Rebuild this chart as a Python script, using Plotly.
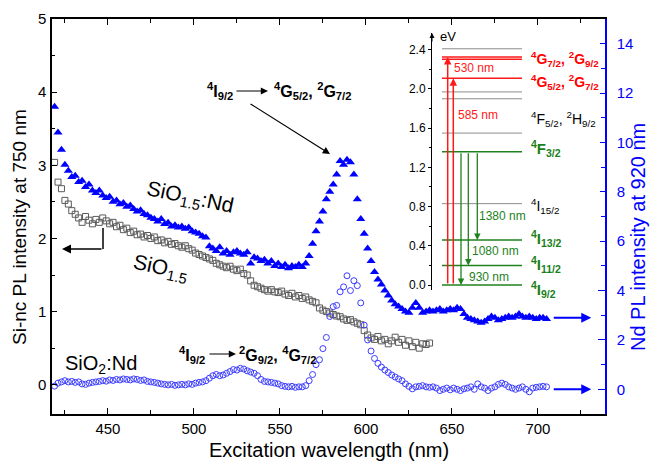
import plotly.graph_objects as go

# ---------------- data ----------------
wl_nd = list(range(419, 706, 2))    # excitation wavelength, nm (Nd-related series)
wl_sio = list(range(419, 638, 2))   # excitation wavelength, nm (SiO1.5 series)

# SiO1.5:Nd  -> Nd PL intensity at 920 nm (right axis)
sio15nd = [11.45, 10.4, 9.7, 9.1, 8.85, 8.6, 8.65, 8.4, 8.45, 8.2,
           8.3, 8.05, 7.95, 8.05, 7.85, 7.75, 7.8, 7.6, 7.65, 7.5,
           7.55, 7.4, 7.45, 7.3, 7.2, 7.25, 7.1, 7.05, 6.95, 6.9,
           6.8, 6.9, 6.7, 6.75, 6.6, 6.65, 6.55, 6.6, 6.5, 6.55,
           6.4, 6.35, 6.3, 6.2, 6.15, 5.8, 5.7, 5.6, 5.75, 5.5,
           5.6, 5.45, 5.55, 5.6, 5.5, 5.45, 5.55, 5.1, 5.35, 5.3,
           5.2, 5.25, 5.1, 5.2, 5.0, 5.1, 4.95, 5.05, 4.9, 5.0,
           4.95, 5.05, 4.95, 5.1, 5.4, 5.9, 6.4, 6.8, 7.2, 7.7,
           8.0, 8.3, 8.7, 9.25, 9.1, 9.3, 9.2, 8.7, 7.7, 6.9,
           6.3, 5.7, 5.2, 4.75, 4.45, 4.25, 4.0, 3.8, 3.6, 3.45,
           3.35, 3.25, 3.15, 3.1, 3.3, 3.5, 3.3, 3.1, 3.15, 3.2,
           3.15, 3.2, 3.25, 3.15, 3.2, 3.25, 3.2, 3.3, 3.25, 3.05,
           2.9, 2.85, 2.8, 2.75, 2.7, 2.75, 2.85, 2.95, 2.9, 2.8,
           2.85, 2.9, 2.95, 2.9, 2.95, 3.05, 2.95, 2.9, 2.95, 2.9,
           2.85, 2.9, 2.9, 2.85]

# SiO1.5 -> Si-nc PL intensity at 750 nm (left axis)
sio15 = [3.04, 2.77, 2.68, 2.52, 2.47, 2.38, 2.33, 2.28, 2.22, 2.30,
         2.25, 2.20, 2.26, 2.22, 2.28, 2.24, 2.20, 2.22, 2.16, 2.18,
         2.12, 2.14, 2.08, 2.10, 2.05, 2.06, 2.02, 2.04, 2.00, 2.02,
         1.97, 1.98, 1.94, 1.96, 1.92, 1.93, 1.90, 1.88, 1.90, 1.86,
         1.84, 1.80, 1.78, 1.76, 1.74, 1.72, 1.70, 1.66, 1.64, 1.62,
         1.60, 1.62, 1.58, 1.56, 1.58, 1.52, 1.50, 1.42, 1.36, 1.34,
         1.32, 1.30, 1.28, 1.30, 1.27, 1.26, 1.28, 1.24, 1.22, 1.25,
         1.20, 1.22, 1.18, 1.20, 1.16, 1.14, 1.12, 1.05, 1.02, 1.00,
         0.98, 0.96, 0.94, 0.93, 0.90, 0.88, 0.89, 0.86, 0.84, 0.82,
         0.74, 0.68, 0.64, 0.62, 0.66, 0.60, 0.62, 0.56, 0.60, 0.65,
         0.58, 0.62, 0.54, 0.60, 0.52, 0.58, 0.50, 0.56, 0.55, 0.57]

# SiO2:Nd -> Nd PL intensity at 920 nm (right axis)
sio2nd = [0.13, 0.25, 0.3, 0.35, 0.3, 0.32, 0.28, 0.3, 0.22, 0.2,
          0.25, 0.28, 0.3, 0.32, 0.35, 0.33, 0.38, 0.36, 0.4, 0.38,
          0.42, 0.4, 0.38, 0.42, 0.4, 0.36, 0.38, 0.32, 0.3, 0.28,
          0.25, 0.22, 0.2, 0.18, 0.2, 0.16, 0.18, 0.2, 0.18, 0.22,
          0.2, 0.25, 0.28, 0.3, 0.35, 0.45, 0.55, 0.6, 0.55, 0.58,
          0.65, 0.72, 0.8, 0.78, 0.85, 0.82, 0.75, 0.7, 0.65, 0.55,
          0.4, 0.32, 0.3, 0.28, 0.25, 0.22, 0.15, 0.12, 0.1, 0.12,
          0.08, 0.1, 0.1, 0.15, 0.35, 0.6, 1.0, 1.2, 1.65, 2.1,
          2.95, 3.35, 3.4, 3.95, 4.15, 4.6, 4.0, 4.4, 4.2, 3.5,
          2.6, 2.0, 1.55, 1.25, 1.05, 0.9, 0.78, 0.68, 0.58, 0.5,
          0.42, 0.35, 0.22, 0.12, 0.02, 0.1, 0.12, 0.15, 0.1, 0.08,
          0.1, 0.05, -0.05, 0.0, 0.05, -0.02, 0.05, 0.0, -0.05, 0.02,
          0.05, 0.1, 0.0, 0.22, 0.1, 0.05, -0.05, 0.05, 0.1, 0.2,
          0.25, 0.2, 0.1, 0.05, 0.0, 0.05, 0.1, 0.0, -0.1, 0.05,
          0.08, 0.1, 0.12, 0.1]

# Inset: Nd3+ energy levels (eV)
gray_levels = [2.41, 1.97, 1.90, 1.55, 0.83]
red_levels = [2.327, 2.303, 2.11]
green_levels = [1.36, 0.46, 0.20, 0.0]
excitations = [("530 nm", 2.327), ("585 nm", 2.11)]
emissions = [("930 nm", 0.0), ("1080 nm", 0.20), ("1380 nm", 0.46)]
level_labels = [
    ("<b><sup>4</sup>G<sub>7/2</sub>, <sup>2</sup>G<sub>9/2</sub></b>", 2.31, "#ff0000", 14),
    ("<b><sup>4</sup>G<sub>5/2</sub>, <sup>2</sup>G<sub>7/2</sub></b>", 2.07, "#ff0000", 14),
    ("<sup>4</sup>F<sub>5/2</sub>, <sup>2</sup>H<sub>9/2</sub>", 1.69, "black", 14),
    ("<b><sup>4</sup>F<sub>3/2</sub></b>", 1.39, "#1a7f1a", 15),
    ("<sup>4</sup>I<sub>15/2</sub>", 0.81, "black", 14),
    ("<b><sup>4</sup>I<sub>13/2</sub></b>", 0.47, "#1a7f1a", 15),
    ("<b><sup>4</sup>I<sub>11/2</sub></b>", 0.21, "#1a7f1a", 15),
    ("<b><sup>4</sup>I<sub>9/2</sub></b>", -0.05, "#1a7f1a", 15),
]

# ---------------- geometry helpers ----------------
L, T, W, H = 52, 19, 553, 395
X_RANGE = [417.5, 739]
YL_RANGE = [-0.4, 5]
YR_RANGE = [-1, 15]


def P(px, py):
    return (px - L) / W, (T + H - py) / H


BLUE = "#0000ff"
RED = "#ff1a1a"
GREEN = "#1e821e"
GRAY = "#8c8c8c"
FONT = "Liberation Sans, Arial, sans-serif"

fig = go.Figure()
fig.add_trace(go.Scatter(x=wl_sio, y=sio15, mode="markers", yaxis="y",
                         marker=dict(symbol="square-open", size=6, color="#5a5a5a", line=dict(width=1))))
fig.add_trace(go.Scatter(x=wl_nd, y=sio15nd, mode="markers", yaxis="y2",
                         marker=dict(symbol="triangle-up", size=8, color=BLUE, line=dict(width=0))))
fig.add_trace(go.Scatter(x=wl_nd, y=sio2nd, mode="markers", yaxis="y2",
                         marker=dict(symbol="circle-open", size=6, color="#3c3cff", line=dict(width=1))))

# inset level lines
LX0, LX1 = 10, 90


def levels_trace(levels, color, width):
    xs, ys = [], []
    for e in levels:
        xs += [LX0, LX1, None]
        ys += [e, e, None]
    return go.Scatter(x=xs, y=ys, mode="lines", xaxis="x3", yaxis="y3",
                      line=dict(color=color, width=width), hoverinfo="skip")


fig.add_trace(levels_trace(gray_levels, GRAY, 1))
fig.add_trace(levels_trace(red_levels, RED, 1.5))
fig.add_trace(levels_trace(green_levels, GREEN, 1.5))

ann = []
# excitation arrows (up) and labels
ex_x = [15.7, 21.3]
ex_lab = [(42, 2.21), (45.5, 1.73)]
for (lab, e), x, (lx, ly) in zip(excitations, ex_x, ex_lab):
    ann.append(dict(xref="x3", yref="y3", axref="x3", ayref="y3", x=x, y=e, ax=x, ay=green_levels[-1],
                    showarrow=True, arrowhead=2, arrowsize=1, arrowwidth=1.5, arrowcolor=RED, text=""))
    ann.append(dict(xref="x3", yref="y3", x=lx, y=ly, text=lab, showarrow=False,
                    font=dict(size=12, color=RED, family=FONT)))
# emission arrows (down) and labels
em_x = [29, 36.3, 45.3]
em_lab = [(57, 0.085), (63, 0.347), (70.5, 0.707)]
for (lab, e), x, (lx, ly) in zip(emissions, em_x, em_lab):
    ann.append(dict(xref="x3", yref="y3", axref="x3", ayref="y3", x=x, y=e, ax=x, ay=green_levels[0],
                    showarrow=True, arrowhead=2, arrowsize=1, arrowwidth=1.3, arrowcolor=GREEN, text=""))
    ann.append(dict(xref="x3", yref="y3", x=lx, y=ly, text=lab, showarrow=False,
                    font=dict(size=12, color=GREEN, family=FONT)))
for txt, e, col, sz in level_labels:
    ann.append(dict(xref="x3", yref="y3", x=97, y=e, text=txt, showarrow=False, xanchor="left",
                    font=dict(size=sz, color=col, family=FONT)))
# inset axis arrow + eV
ann.append(dict(xref="x3", yref="y3", x=0, y=2.57, ax=0, ay=10, showarrow=True, arrowhead=2,
                arrowsize=1, arrowwidth=1, arrowcolor="black", text=""))
ann.append(dict(xref="x3", yref="y3", x=6, y=2.54, text="eV", showarrow=False, xanchor="left",
                font=dict(size=13, color="black", family=FONT)))

# main text labels
def text_at(px, py, txt, size, angle=0, anchor="center", color="black"):
    xp, yp = P(px, py)
    ann.append(dict(xref="paper", yref="paper", x=xp, y=yp, text=txt, showarrow=False,
                    xanchor=anchor, yanchor="middle", textangle=angle,
                    font=dict(size=size, color=color, family=FONT)))


def arrow_px(hx, hy, tx, ty, width=1.2, color="black", size=1.2):
    xp, yp = P(hx, hy)
    ann.append(dict(xref="paper", yref="paper", x=xp, y=yp, ax=tx - hx, ay=ty - hy,
                    showarrow=True, arrowhead=2, arrowsize=size, arrowwidth=width,
                    arrowcolor=color, text=""))


# axis titles
text_at(329, 450, "Excitation wavelength (nm)", 20)
text_at(20, 227, "Si-nc PL intensity at 750 nm", 19, angle=-90)
text_at(638, 237, "Nd PL intensity at 920 nm", 20, angle=-90, color=BLUE)

text_at(190, 198, "SiO<sub>1.5</sub>:Nd", 21, angle=12)
text_at(160, 268, "SiO<sub>1.5</sub>", 21, angle=12)
text_at(101, 364, "SiO<sub>2</sub>:Nd", 20)
text_at(192, 355, "<b><sup>4</sup>I<sub>9/2</sub></b>", 16)
arrow_px(236, 354, 208, 354)
text_at(237, 355, "<b><sup>2</sup>G<sub>9/2</sub>, <sup>4</sup>G<sub>7/2</sub></b>", 16, anchor="left")
text_at(220, 91, "<b><sup>4</sup>I<sub>9/2</sub></b>", 16)
arrow_px(268, 91, 235, 91)
text_at(272, 91, "<b><sup>4</sup>G<sub>5/2</sub>, <sup>2</sup>G<sub>7/2</sub></b>", 16, anchor="left")
arrow_px(330, 154, 249, 103)

# L-shaped arrow to the left axis (SiO1.5 -> left axis)
arrow_px(62, 249, 103, 249, width=1.5)
# blue arrows to the right axis (Nd series -> right axis)
for yv in [2.9, 0.0]:
    ann.append(dict(xref="x", yref="y2", x=731, y=yv, ax=-39, ay=0, showarrow=True,
                    arrowhead=2, arrowsize=1, arrowwidth=2, arrowcolor=BLUE, text=""))

shapes = [dict(type="line", xref="paper", yref="paper",
               x0=P(103, 228)[0], y0=P(103, 228)[1], x1=P(103, 249)[0], y1=P(103, 249)[1],
               line=dict(color="black", width=1.5))]

fig.update_layout(
    width=650, height=461, margin=dict(l=L, r=650 - L - W, t=T, b=461 - T - H, autoexpand=False),
    paper_bgcolor="white", plot_bgcolor="white", showlegend=False,
    font=dict(family=FONT, color="black"),
    annotations=ann, shapes=shapes,
    xaxis=dict(range=X_RANGE, showline=True, linecolor="black", linewidth=1.5, mirror="ticks",
               ticks="inside", ticklen=6, tickwidth=1.2, tickcolor="black", tick0=450, dtick=50,
               minor=dict(dtick=25, ticks="inside", ticklen=4, tickcolor="black"),
               showgrid=False, zeroline=False, tickfont=dict(size=15), automargin=False,
               ticklabelstandoff=0),
    yaxis=dict(range=YL_RANGE, showline=True, linecolor="black", linewidth=1.5,
               ticks="inside", ticklen=5, tickwidth=1.2, tickcolor="black", tick0=0, dtick=1,
               minor=dict(dtick=0.5, ticks="inside", ticklen=3, tickcolor="black"),
               showgrid=False, zeroline=False, tickfont=dict(size=15), automargin=False,
               ticklabelstandoff=1),
    yaxis2=dict(range=YR_RANGE, overlaying="y", side="right", showline=True, linecolor=BLUE,
                linewidth=1.5, ticks="inside", ticklen=7, tickwidth=1.2, tickcolor=BLUE,
                tick0=0, dtick=2, minor=dict(dtick=1, ticks="inside", ticklen=4, tickcolor=BLUE),
                showgrid=False, zeroline=False, tickfont=dict(size=15, color=BLUE), automargin=False,
                ticklabelstandoff=7),
    xaxis3=dict(domain=[(432 - L) / W, (600 - L) / W], range=[0, 168], anchor="y3", visible=False),
    yaxis3=dict(domain=[(T + H - 289.9) / H, (T + H - 33.1) / H], range=[-0.05, 2.57], anchor="x3",
                showline=True, linecolor="black", linewidth=1, ticks="outside", ticklen=3,
                tickcolor="black", tick0=0, dtick=0.4, tickformat=".1f", automargin=False,
                minor=dict(dtick=0.2, ticks="outside", ticklen=2, tickcolor="black"),
                showgrid=False, zeroline=False, tickfont=dict(size=12)),
)

# the page's default body margin would shift the figure by 8 px; remove it
fig.write_html("out.html", config={"displayModeBar": False},
               post_script="document.body.style.margin='0px';")
